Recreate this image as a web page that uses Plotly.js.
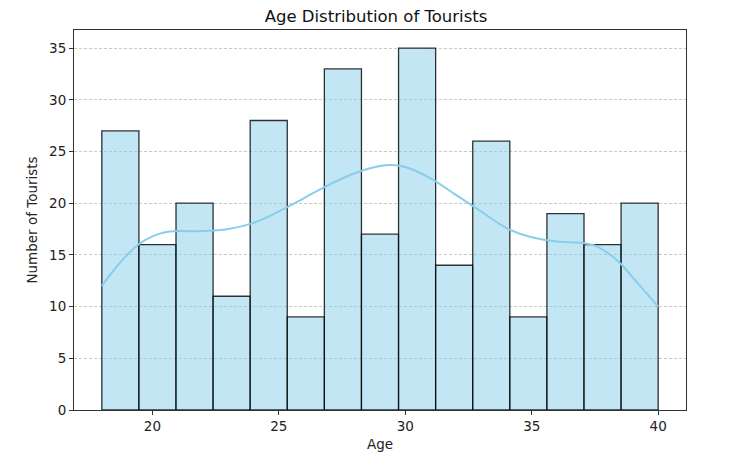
<!DOCTYPE html>
<html>
<head>
<meta charset="utf-8">
<script src="https://cdn.plot.ly/plotly-3.0.1.min.js"></script>
<style>html,body{margin:0;padding:0;background:#fff;}#chart{width:752px;height:457px;}</style>
</head>
<body>
<div id="chart"></div>
<script>
// Histogram: 15 bins from 18 to 40
const binStart = 18;
const binEnd = 40;
const binCounts = [27, 16, 20, 11, 28, 9, 33, 17, 35, 14, 26, 9, 19, 16, 20];

// KDE curve
const kdeAge = [18, 18.5, 19, 19.5, 20, 20.5, 21, 22, 23, 24, 25, 26, 27, 28, 29, 29.5, 30, 31, 32, 33, 34, 35, 36, 37, 37.5, 38, 38.5, 39, 39.5, 40];
const kdeVal = [12.0, 13.6, 15.0, 16.1, 16.8, 17.2, 17.3, 17.3, 17.5, 18.1, 19.2, 20.5, 21.8, 22.9, 23.6, 23.7, 23.5, 22.4, 20.8, 19.2, 17.6, 16.7, 16.3, 16.15, 15.9, 15.2, 14.2, 12.8, 11.4, 10.0];

const xTicks = [20, 25, 30, 35, 40];
const yTicks = [0, 5, 10, 15, 20, 25, 30, 35];

const nBins = binCounts.length;
const binWidth = (binEnd - binStart) / nBins;
const centers = binCounts.map((_, i) => binStart + binWidth * (i + 0.5));

const font = "DejaVu Sans, sans-serif";

const traces = [
  {
    type: 'bar',
    x: centers,
    y: binCounts,
    width: binWidth,
    marker: {color: 'rgba(135,206,235,0.5)', line: {color: 'rgba(0,0,0,0.8)', width: 1.3}},
    hoverinfo: 'x+y',
    showlegend: false
  },
  {
    type: 'scatter',
    mode: 'lines',
    x: kdeAge,
    y: kdeVal,
    line: {color: 'rgb(135,206,235)', width: 2, shape: 'spline'},
    showlegend: false
  }
];

const layout = {
  width: 752,
  height: 457,
  margin: {l: 74, r: 66, t: 30, b: 47},
  paper_bgcolor: '#fff',
  plot_bgcolor: '#fff',
  bargap: 0,
  font: {family: font, size: 13.5, color: '#222'},
  title: {text: 'Age Distribution of Tourists', font: {family: font, size: 16.5, color: '#111'}, x: 0.5, xanchor: 'center', y: 0.965, yanchor: 'middle'},
  xaxis: {
    range: [16.9, 41.1],
    tickvals: xTicks,
    ticktext: xTicks.map(String),
    ticks: 'outside', ticklen: 4, tickwidth: 1, tickcolor: '#333',
    showgrid: false, zeroline: false,
    showline: true, linecolor: '#333', linewidth: 1, mirror: true,
    tickfont: {family: font, size: 13.5, color: '#222'},
    title: {text: 'Age', font: {family: font, size: 13.5, color: '#222'}, standoff: 6}
  },
  yaxis: {
    range: [0, 36.75],
    tickvals: yTicks,
    ticktext: yTicks.map(String),
    ticks: 'outside', ticklen: 4, tickwidth: 1, tickcolor: '#333',
    showgrid: true, gridcolor: 'rgba(180,180,180,0.7)', griddash: '3px,2px', gridwidth: 1,
    zeroline: false,
    showline: true, linecolor: '#333', linewidth: 1, mirror: true,
    tickfont: {family: font, size: 13.5, color: '#222'},
    title: {text: 'Number of Tourists', font: {family: font, size: 13.5, color: '#222'}, standoff: 8}
  }
};

Plotly.newPlot('chart', traces, layout, {displayModeBar: false, staticPlot: true});
</script>
</body>
</html>
